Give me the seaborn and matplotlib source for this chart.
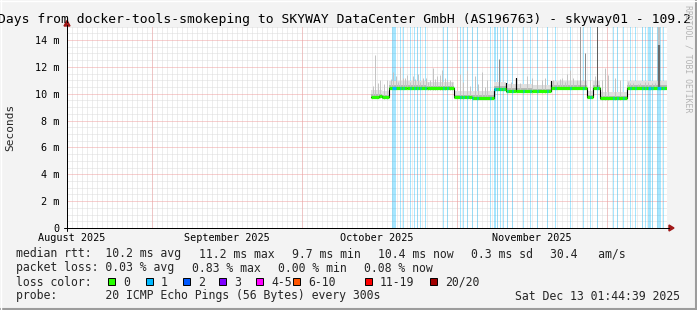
import numpy as np
import pandas as pd
import matplotlib
matplotlib.use("Agg")
import matplotlib.pyplot as plt
import matplotlib.dates as mdates
from matplotlib.patches import Rectangle, Polygon
from matplotlib.lines import Line2D
import seaborn as sns

# ---------------- data ----------------
title_text = "Days from docker-tools-smokeping to SKYWAY DataCenter GmbH (AS196763) - skyway01 - 109.2"
end_time = "2025-12-13 01:44:39"
span_days = 120
y_max_ms = 15

month_starts = ["2025-09-01", "2025-10-01", "2025-11-01", "2025-12-01"]
month_label_dates = ["2025-08-16", "2025-09-16", "2025-10-16", "2025-11-16"]
month_labels = ["August 2025", "September 2025", "October 2025", "November 2025"]

ytick_ms = [0, 2, 4, 6, 8, 10, 12, 14]
ytick_labels = ["0", "2 m", "4 m", "6 m", "8 m", "10 m", "12 m", "14 m"]

median_times = ["2025-10-14 21:00", "2025-10-16 12:00", "2025-10-17 00:00", "2025-10-18 11:00",
                "2025-10-22 00:00", "2025-10-26 00:00", "2025-10-31 11:00", "2025-11-04 00:00",
                "2025-11-08 11:00", "2025-11-10 20:00", "2025-11-10 22:00", "2025-11-12 20:00",
                "2025-11-12 22:00", "2025-11-16 00:00", "2025-11-19 20:00", "2025-11-19 22:00",
                "2025-11-27 02:00", "2025-11-28 07:00", "2025-11-29 16:00", "2025-12-05 02:00"]
median_ms = [9.75, 9.80, 9.72, 10.42,
             10.45, 10.40, 9.74, 9.70,
             10.38, 10.80, 10.22, 11.20,
             10.22, 10.18, 10.95, 10.42,
             9.73, 10.42, 9.66, 10.42]

spike_times = ["2025-10-15 07:00", "2025-10-15 16:00", "2025-10-16 07:00", "2025-10-16 16:00",
               "2025-10-17 11:00", "2025-10-18 02:00", "2025-10-18 21:00", "2025-10-19 07:00",
               "2025-10-19 21:00", "2025-10-20 07:00", "2025-10-20 16:00", "2025-10-21 07:00",
               "2025-10-21 16:00", "2025-10-22 02:00", "2025-10-22 16:00", "2025-10-23 07:00",
               "2025-10-23 16:00", "2025-10-24 07:00", "2025-10-24 16:00", "2025-10-25 07:00",
               "2025-10-25 21:00", "2025-10-26 07:00", "2025-10-26 16:00", "2025-10-27 07:00",
               "2025-10-27 16:00", "2025-10-28 02:00", "2025-10-28 16:00", "2025-10-29 02:00",
               "2025-10-29 16:00", "2025-10-30 02:00", "2025-10-30 16:00", "2025-10-31 02:00",
               "2025-11-01 16:00", "2025-11-02 07:00", "2025-11-03 02:00", "2025-11-03 16:00",
               "2025-11-04 16:00", "2025-11-05 07:00", "2025-11-06 02:00", "2025-11-06 16:00",
               "2025-11-07 02:00", "2025-11-09 11:00", "2025-11-11 21:00", "2025-11-13 16:00",
               "2025-11-15 02:00", "2025-11-16 02:00", "2025-11-17 02:00", "2025-11-18 02:00",
               "2025-11-18 16:00", "2025-11-20 07:00", "2025-11-21 02:00", "2025-11-21 16:00",
               "2025-11-22 02:00", "2025-11-22 16:00", "2025-11-23 02:00", "2025-11-23 16:00",
               "2025-11-24 07:00", "2025-11-25 02:00", "2025-11-25 16:00", "2025-11-26 16:00",
               "2025-11-27 16:00", "2025-11-28 16:00", "2025-11-29 04:00", "2025-11-30 02:00",
               "2025-11-30 16:00", "2025-12-01 07:00", "2025-12-02 16:00", "2025-12-03 16:00",
               "2025-12-05 07:00", "2025-12-05 16:00", "2025-12-06 07:00", "2025-12-06 16:00",
               "2025-12-07 07:00", "2025-12-07 16:00", "2025-12-08 16:00", "2025-12-09 07:00",
               "2025-12-10 02:00", "2025-12-10 16:00", "2025-12-11 11:00", "2025-12-11 11:00"]
spike_top_ms = [10.6, 12.9, 10.8, 11.0,
                10.7, 11.0, 11.1, 11.6,
                11.3, 10.9, 12.0, 11.15,
                11.2, 11.4, 10.9, 11.3,
                11.1, 11.5, 10.9, 11.15,
                11.2, 10.9, 11.0, 11.9,
                11.1, 11.3, 11.4, 11.8,
                11.2, 11.0, 11.0, 10.9,
                11.5, 10.9, 11.8, 10.6,
                11.3, 10.7, 11.6, 10.5,
                11.0, 12.6, 10.9, 10.8,
                11.3, 11.2, 11.0, 11.0,
                11.2, 11.0, 10.9, 11.1,
                11.2, 10.9, 11.5, 11.75,
                11.2, 11.0, 15.5, 13.0,
                11.0, 11.3, 15.5, 11.0,
                11.9, 11.4, 11.2, 11.0,
                10.9, 10.8, 10.8, 10.6,
                10.7, 10.8, 10.9, 10.9,
                10.8, 10.8, 15.5, 13.6]
spike_pings = [1] * 41 + [4] + [1] * 16 + [3, 4, 1, 1, 5] + [1] * 15 + [2, 8]

loss_times = ["2025-10-19 00:00", "2025-10-20 16:00", "2025-10-21 07:00", "2025-10-22 16:00",
              "2025-10-23 11:00", "2025-10-24 02:00", "2025-10-24 16:00", "2025-10-25 16:00",
              "2025-10-29 07:00", "2025-10-30 02:00", "2025-11-01 16:00", "2025-11-02 07:00",
              "2025-11-03 02:00", "2025-11-04 02:00", "2025-11-05 02:00", "2025-11-07 16:00",
              "2025-11-08 11:00", "2025-11-09 02:00", "2025-11-09 16:00", "2025-11-10 07:00",
              "2025-11-11 02:00", "2025-11-12 02:00", "2025-11-14 07:00", "2025-11-15 16:00",
              "2025-11-17 02:00", "2025-11-19 02:00", "2025-11-20 16:00", "2025-11-23 16:00",
              "2025-11-26 07:00", "2025-11-27 16:00", "2025-11-29 02:00", "2025-12-02 07:00",
              "2025-12-03 02:00", "2025-12-04 07:00", "2025-12-05 16:00", "2025-12-06 16:00",
              "2025-12-08 02:00", "2025-12-08 16:00", "2025-12-09 07:00", "2025-12-10 02:00",
              "2025-12-11 02:00", "2025-12-12 07:00"]
loss_hours = [19, 5, 5, 5,
              5, 5, 5, 5,
              5, 5, 5, 5,
              5, 5, 5, 5,
              10, 5, 5, 5,
              5, 5, 5, 5,
              5, 5, 5, 5,
              5, 5, 5, 5,
              5, 5, 5, 5,
              5, 5, 14, 5,
              19, 5]
loss_pings = [1] * len(loss_times)

loss_levels = ["0", "1", "2", "3", "4-5", "6-10", "11-19", "20/20"]
loss_colors = ["#26ff00", "#00b8ff", "#0059ff", "#7e00ff", "#ff00ff", "#ff5500", "#ff0000", "#a10000"]

rtt_items = ["median rtt:  10.2 ms avg", "11.2 ms max", "9.7 ms min", "10.4 ms now",
             "0.3 ms sd", "30.4   am/s"]
loss_items = ["packet loss: 0.03 % avg", "0.83 % max", "0.00 % min", "0.08 % now"]
loss_color_title = "loss color:"
probe_text = "probe:       20 ICMP Echo Pings (56 Bytes) every 300s"
stamp_text = "Sat Dec 13 01:44:39 2025"
watermark = "RRDTOOL / TOBI OETIKER"

# ---------------- drawing ----------------
sns.set_theme(style="white")
MONO = "DejaVu Sans Mono"
plt.rcParams["font.family"] = [MONO]

W, H = 697, 310
fig = plt.figure(figsize=(W / 100, H / 100), dpi=100)
fig.patch.set_facecolor("#f3f3f3")


def fx(x):
    return x / W


def fy(y):
    return 1 - y / H


X0, X1, Y0, YT = 67, 667, 228, 26.6
ax = fig.add_axes([fx(X0), fy(Y0), (X1 - X0) / W, (Y0 - YT) / H])
ax.set_facecolor("white")
for s in ax.spines.values():
    s.set_visible(False)


def num(ts):
    return mdates.date2num(pd.to_datetime(ts).to_pydatetime())


t_end = pd.Timestamp(end_time)
t_start = t_end - pd.Timedelta(days=span_days)
PX = 0.72  # one pixel in points
DOT = (0, (1.0, 1.0))

# grid
days = pd.date_range(t_start.ceil("D"), t_end, freq="D")
g = ax.vlines(num(days), 0, y_max_ms, colors="#dcdcdc", lw=PX, linestyles=DOT, zorder=1)
g.set_snap(True)
minor_y = [v for v in np.arange(0.5, y_max_ms + 0.01, 0.5) if v % 2 != 0]
g = ax.hlines(minor_y, num(t_start), num(t_end), colors="#dcdcdc", lw=PX, linestyles=DOT, zorder=1)
g.set_snap(True)
g = ax.vlines(num(month_starts), 0, y_max_ms, colors="#f0a0a0", lw=PX, linestyles=DOT, zorder=1.2)
g.set_snap(True)
g = ax.hlines(ytick_ms[1:], num(t_start), num(t_end), colors="#f0a0a0", lw=PX, linestyles=DOT, zorder=1.2)
g.set_snap(True)


def level_index(n):
    if n <= 3:
        return n
    if n <= 5:
        return 4
    if n <= 10:
        return 5
    if n <= 19:
        return 6
    return 7


# loss background bars
for t, h, n in zip(loss_times, loss_hours, loss_pings):
    a = pd.Timestamp(t)
    ax.axvspan(num(a), num(a + pd.Timedelta(hours=h)), color=loss_colors[level_index(n)],
               alpha=0.35, lw=0, zorder=2)

# median as steps
mt = pd.to_datetime(median_times)
seg_end = list(mt[1:]) + [t_end]
med = np.array(median_ms)
edges = num(list(mt) + [t_end])
vals = np.append(med, med[-1])

# smoke around the median
ax.fill_between(edges, vals - 0.14, vals + 0.5, step="post", color="#e0e0e0", lw=0, zorder=3)
ax.fill_between(edges, vals - 0.1, vals + 0.2, step="post", color="#b8b8b8", lw=0, zorder=3.1)

# outlier spikes
st = pd.to_datetime(spike_times)
idx = np.searchsorted(mt.values, st.values, side="right") - 1
base = med[np.clip(idx, 0, None)]
shade = {1: "#c4c4c4", 2: "#c0c0c0", 3: "#9a9a9a", 4: "#8a8a8a", 5: "#5e5e5e", 8: "#6a6a6a"}
for t, b, top, n in zip(st, base, spike_top_ms, spike_pings):
    wide = n in (2, 8)
    ax.vlines(num(t), b - 0.1, top, colors=shade.get(n, "#c4c4c4"), lw=PX * (2.2 if wide else 1),
              zorder=3.2 + (0.1 if n == 8 else 0))

df = pd.DataFrame({"time": list(mt) + [t_end], "ms": list(vals)})
sns.lineplot(data=df, x="time", y="ms", drawstyle="steps-post", color="black", lw=0.8,
             estimator=None, ax=ax, zorder=4)
ax.hlines(med, num(mt), num(seg_end), colors=loss_colors[0], lw=2.3, zorder=5)

# median coloured by loss where pings were lost
lt = pd.to_datetime(loss_times)
lidx = np.searchsorted(mt.values, lt.values, side="right") - 1
for t, h, n, i in zip(lt, loss_hours, loss_pings, lidx):
    if i < 0 or t >= t_end:
        continue
    ax.hlines(med[i], num(t), num(t + pd.Timedelta(hours=max(h, 6))),
              colors=loss_colors[level_index(n)], lw=2.3, zorder=5.1)

ax.set_xlim(num(t_start), num(t_end))
ax.set_ylim(0, y_max_ms)
ax.set_xlabel("")
ax.set_ylabel("")

ax.set_xticks(num(month_starts))
ax.set_xticklabels([""] * len(month_starts))
ax.set_xticks(num(month_label_dates), minor=True)
ax.set_xticklabels(month_labels, minor=True, fontfamily=MONO, fontsize=7.3)
ax.tick_params(axis="x", which="major", length=2.5, width=PX, color="#f0a0a0", direction="out")
ax.tick_params(axis="x", which="minor", length=0, pad=3.4, labelsize=7.3, labelcolor="black")
ax.set_yticks(ytick_ms, ytick_labels)
ax.tick_params(axis="y", which="major", length=2.2, width=PX, color="#555555", direction="out",
               pad=3.2, labelsize=7.3, labelcolor="black")
for lab in ax.get_yticklabels():
    lab.set_fontfamily(MONO)

# axes lines and arrows
fig.add_artist(Line2D([fx(64), fx(669)], [fy(228), fy(228)], color="black", lw=PX))
fig.add_artist(Line2D([fx(67), fx(67)], [fy(231), fy(25)], color="black", lw=PX))
fig.add_artist(Polygon([(fx(669), fy(225)), (fx(669), fy(231)), (fx(674), fy(228))],
                       closed=True, color="#a01818", transform=fig.transFigure))
fig.add_artist(Polygon([(fx(64), fy(26)), (fx(70), fy(26)), (fx(67), fy(20.5))],
                       closed=True, color="#a01818", transform=fig.transFigure))

# texts
fig.text(fx(-2), fy(23), title_text, fontsize=9.4, fontfamily=MONO, ha="left", va="baseline", color="black")
fig.text(fx(10), fy(127), "Seconds", rotation=90, fontsize=8.0, fontfamily=MONO, ha="center", va="center")
fig.text(fx(688), fy(5), watermark, rotation=270, fontsize=5.9, fontfamily=MONO, ha="center", va="top",
         color="#b4b4b4")

LF = 8.3
CW = LF * 100 / 72 * 0.602   # advance of one monospace character in pixels
GLUE = 16.5                  # gap rrdtool leaves between legend items


def legend_row(items, y):
    x = 16
    for s in items:
        fig.text(fx(x), fy(y), s, fontsize=LF, fontfamily=MONO, ha="left", va="baseline")
        x += len(s) * CW + GLUE


legend_row(rtt_items, 257.5)
legend_row(loss_items, 271.5)
fig.text(fx(16), fy(285.5), loss_color_title, fontsize=LF, fontfamily=MONO, ha="left", va="baseline")
sq_x = [108, 146, 183, 219, 256, 293, 365, 430]
for x, lab, c in zip(sq_x, loss_levels, loss_colors):
    fig.add_artist(Rectangle((fx(x), fy(284.5)), 7 / W, 7 / H, transform=fig.transFigure,
                             facecolor=c, edgecolor="black", lw=0.7))
    fig.text(fx(x + 15), fy(285.5), lab, fontsize=LF, fontfamily=MONO, ha="left", va="baseline")
fig.text(fx(16), fy(299.5), probe_text, fontsize=LF, fontfamily=MONO, ha="left", va="baseline")
fig.text(fx(680), fy(299.5), stamp_text, fontsize=LF, fontfamily=MONO, ha="right", va="baseline")

# 3D frame
fig.add_artist(Line2D([0, 1], [fy(309), fy(309)], color="#9c9c9c", lw=1.5))
fig.add_artist(Line2D([fx(696), fx(696)], [0, 1], color="#9c9c9c", lw=1.5))
fig.add_artist(Line2D([0, 1], [fy(0.5), fy(0.5)], color="white", lw=1.0))
fig.add_artist(Line2D([fx(0.5), fx(0.5)], [0, 1], color="white", lw=1.0))

fig.savefig("out.png", dpi=100, facecolor=fig.get_facecolor())
